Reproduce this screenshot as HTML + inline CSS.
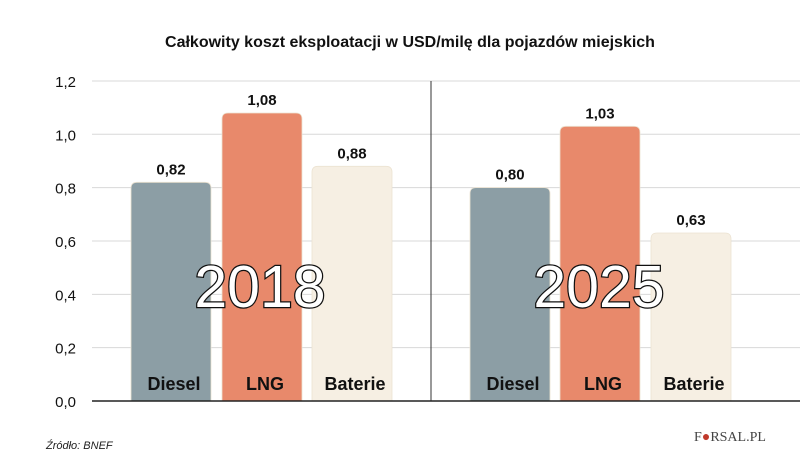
<!DOCTYPE html>
<html><head><meta charset="utf-8"><style>
body{margin:0;background:#fff;}
svg{display:block;font-family:"Liberation Sans",sans-serif;}
</style></head><body>
<svg id="chart" width="805" height="474" viewBox="0 0 805 474">
<text x="410" y="47" text-anchor="middle" font-size="16" font-weight="bold" fill="#111">Całkowity koszt eksploatacji w USD/milę dla pojazdów miejskich</text>
<g id="grid"></g><g id="bars"></g>
<line x1="431" y1="81" x2="431" y2="401" stroke="#333" stroke-width="1"/>
<line x1="92" y1="401" x2="800" y2="401" stroke="#222" stroke-width="1.5"/>
<text x="260" y="307" text-anchor="middle" font-size="59" fill="#fff" stroke="#111" stroke-width="2.5" paint-order="stroke">2018</text>
<text x="599" y="307" text-anchor="middle" font-size="59" fill="#fff" stroke="#111" stroke-width="2.5" paint-order="stroke">2025</text>
<text x="46" y="449" font-size="11" font-style="italic" fill="#222">Źródło: BNEF</text>
<text x="730" y="441" text-anchor="middle" font-size="14" font-family="Liberation Serif,serif" fill="#444">F<tspan fill="#c0392b">●</tspan>RSAL.PL</text>
</svg>
<script>
const categories=["Diesel","LNG","Baterie","Diesel","LNG","Baterie"];
const values=[0.82,1.08,0.88,0.80,1.03,0.63];
const valueLabels=["0,82","1,08","0,88","0,80","1,03","0,63"];
const yTicks=[0,0.2,0.4,0.6,0.8,1.0,1.2];
const yTickLabels=["0,0","0,2","0,4","0,6","0,8","1,0","1,2"];
const colors=["#8c9ea5","#e8896b","#f6efe3","#8c9ea5","#e8896b","#f6efe3"];
const NS="http://www.w3.org/2000/svg";
const y=v=>401-v*266.7;
const barX=i=>[131,222,312,470,560,651][i];
const bw=80;
const grid=document.getElementById('grid'),bars=document.getElementById('bars');
function mk(t,a,p){const e=document.createElementNS(NS,t);for(const k in a)e.setAttribute(k,a[k]);p.appendChild(e);return e;}
yTicks.forEach((t,i)=>{
 if(t>0){const l=mk('line',{x1:92,x2:800,y1:y(t),y2:y(t),stroke:'#d8d8d8','stroke-width':1},grid);
 
 }
 const tx=mk('text',{x:76,y:y(t)+6,'text-anchor':'end','font-size':15,fill:'#111'},grid);
 tx.textContent=yTickLabels[i];
 
 
});
values.forEach((v,i)=>{
 const x=barX(i),top=y(v);
 const r=mk('path',{d:`M${x},401 V${top+6} Q${x},${top} ${x+6},${top} H${x+bw-6} Q${x+bw},${top} ${x+bw},${top+6} V401 Z`,fill:colors[i],stroke:'#ece3d2','stroke-width':0.8},bars);
 
 
 const vl=mk('text',{x:x+bw/2,y:top-8,'text-anchor':'middle','font-size':15,'font-weight':'bold',fill:'#111'},bars);
 vl.textContent=valueLabels[i];
 
 
 const cl=mk('text',{x:x+bw/2+3,y:390,'text-anchor':'middle','font-size':18,'font-weight':'bold',fill:'#111'},bars);
 cl.textContent=categories[i];
 
 
});
</script>
</body></html>
